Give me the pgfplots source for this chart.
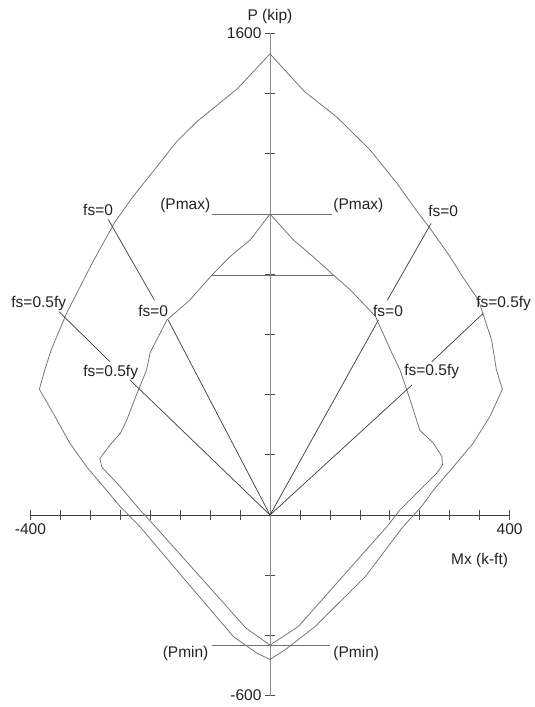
\documentclass[border=0pt]{standalone}
\usepackage{fontspec}
\setmainfont{Liberation Sans}
\usepackage{pgfplots}
\pgfplotsset{compat=1.18}

\definecolor{curve}{HTML}{707070}
\definecolor{radial}{HTML}{3A3A3A}
\definecolor{txt}{HTML}{222222}
\newcommand{\lbl}{\fontsize{15.5}{18}\selectfont}

\begin{document}
\begin{tikzpicture}[x=1pt,y=1pt]
\useasboundingbox (0,0) rectangle (535,-707);
\begin{axis}[
  at={(270pt,-515pt)}, anchor=origin,
  scale only axis, width=479.2pt, height=662.2pt,
  xmin=-400, xmax=400, ymin=-600, ymax=1600,
  axis lines=middle, axis line style={-},
  x axis line style={black!75, line width=0.7pt},
  y axis line style={black!45, line width=0.9pt},
  xtick={-400,-350,...,400},
  xticklabels={-400,,,,,,,,,,,,,,,,400},
  ytick={-600,-400,...,1600},
  yticklabels={-600,,,,,,,,,,,1600},
  tick align=center, major tick length=10pt,
  tick style={black!70, line width=0.7pt},
  ticklabel style={font=\lbl, text=txt},
  every axis x label/.style={at={(axis description cs:1.004,0.2045)}, anchor=east, font=\lbl, text=txt},
  every axis y label/.style={at={(axis description cs:0.5,1.025)}, anchor=center, font=\lbl, text=txt},
  xlabel={Mx (k-ft)}, ylabel={P (kip)},
  clip=false,
]
% outer diagram
\addplot[curve, line width=0.75pt] coordinates {
(0,1532) (-54,1417) (-122,1307) (-156,1240) (-189,1157) (-229,1057) (-259,973)
(-296,840) (-339,673) (-365,550) (-376,482) (-385,418) (-362,338) (-334,238)
(-306,160) (-278,94) (-250,28) (-217,-39) (-140,-220) (-61,-404) (-22,-459)
(0,-480) (25,-448) (75,-371) (159,-205) (222,-39) (253,28) (273,83) (306,160)
(339,238) (367,327) (388,418) (378,482) (370,581) (348,714) (322,790) (300,860)
(268,950) (245,1010) (212,1102) (167,1213) (111,1323) (58,1406) (0,1532)};
% inner diagram
\addplot[curve, line width=0.75pt] coordinates {
(0,1000) (-33,914) (-67,858) (-97,797) (-134,714) (-172,648) (-200,540) (-206,482)
(-222,404) (-239,316) (-250,271) (-267,233) (-284,188) (-281,160) (-250,94)
(-217,17) (-189,-44) (-40,-376) (0,-432) (47,-371) (195,-39) (217,17) (250,83)
(278,138) (288,166) (287,194) (273,238) (250,282) (234,382) (217,482) (203,540)
(176,660) (134,748) (106,797) (72,858) (39,914) (0,1000)};
% Pmax, Pmin and cut lines
\addplot[curve, line width=0.8pt] coordinates {(-97,1000) (103,1000)};
\addplot[curve, line width=0.8pt] coordinates {(-97,797) (106,797)};
\addplot[curve, line width=0.8pt] coordinates {(-97,-432) (100,-432)};
% fs lines
\addplot[radial, line width=0.7pt] coordinates {(0,0) (-170,648)};
\addplot[radial, line width=0.7pt] coordinates {(-193,714) (-270,982)};
\addplot[radial, line width=0.7pt] coordinates {(0,0) (-234,449)};
\addplot[radial, line width=0.7pt] coordinates {(-267,509) (-352,675)};
\addplot[radial, line width=0.7pt] coordinates {(0,0) (181,648)};
\addplot[radial, line width=0.7pt] coordinates {(196,714) (269,969)};
\addplot[radial, line width=0.7pt] coordinates {(0,0) (237,432)};
\addplot[radial, line width=0.7pt] coordinates {(270,509) (356,670)};

\begin{scope}[every node/.style={font=\lbl, text=txt, inner sep=0pt}]
\node at (axis cs:-195,679) {fs=0};
\node at (axis cs:-287,1013) {fs=0};
\node at (axis cs:-266,473) {fs=0.5fy};
\node at (axis cs:-386,703) {fs=0.5fy};
\node at (axis cs:197,678) {fs=0};
\node at (axis cs:289,1011) {fs=0};
\node at (axis cs:270,476) {fs=0.5fy};
\node at (axis cs:390,703) {fs=0.5fy};
\node[anchor=south east, inner sep=1.5pt] at (axis cs:-97,1000) {(Pmax)};
\node[anchor=south west, inner sep=1.5pt] at (axis cs:103,1000) {(Pmax)};
\node[anchor=north east, inner sep=1.5pt] at (axis cs:-100,-432) {(Pmin)};
\node[anchor=north west, inner sep=1.5pt] at (axis cs:103,-432) {(Pmin)};
\end{scope}
\end{axis}
\end{tikzpicture}
\end{document}
